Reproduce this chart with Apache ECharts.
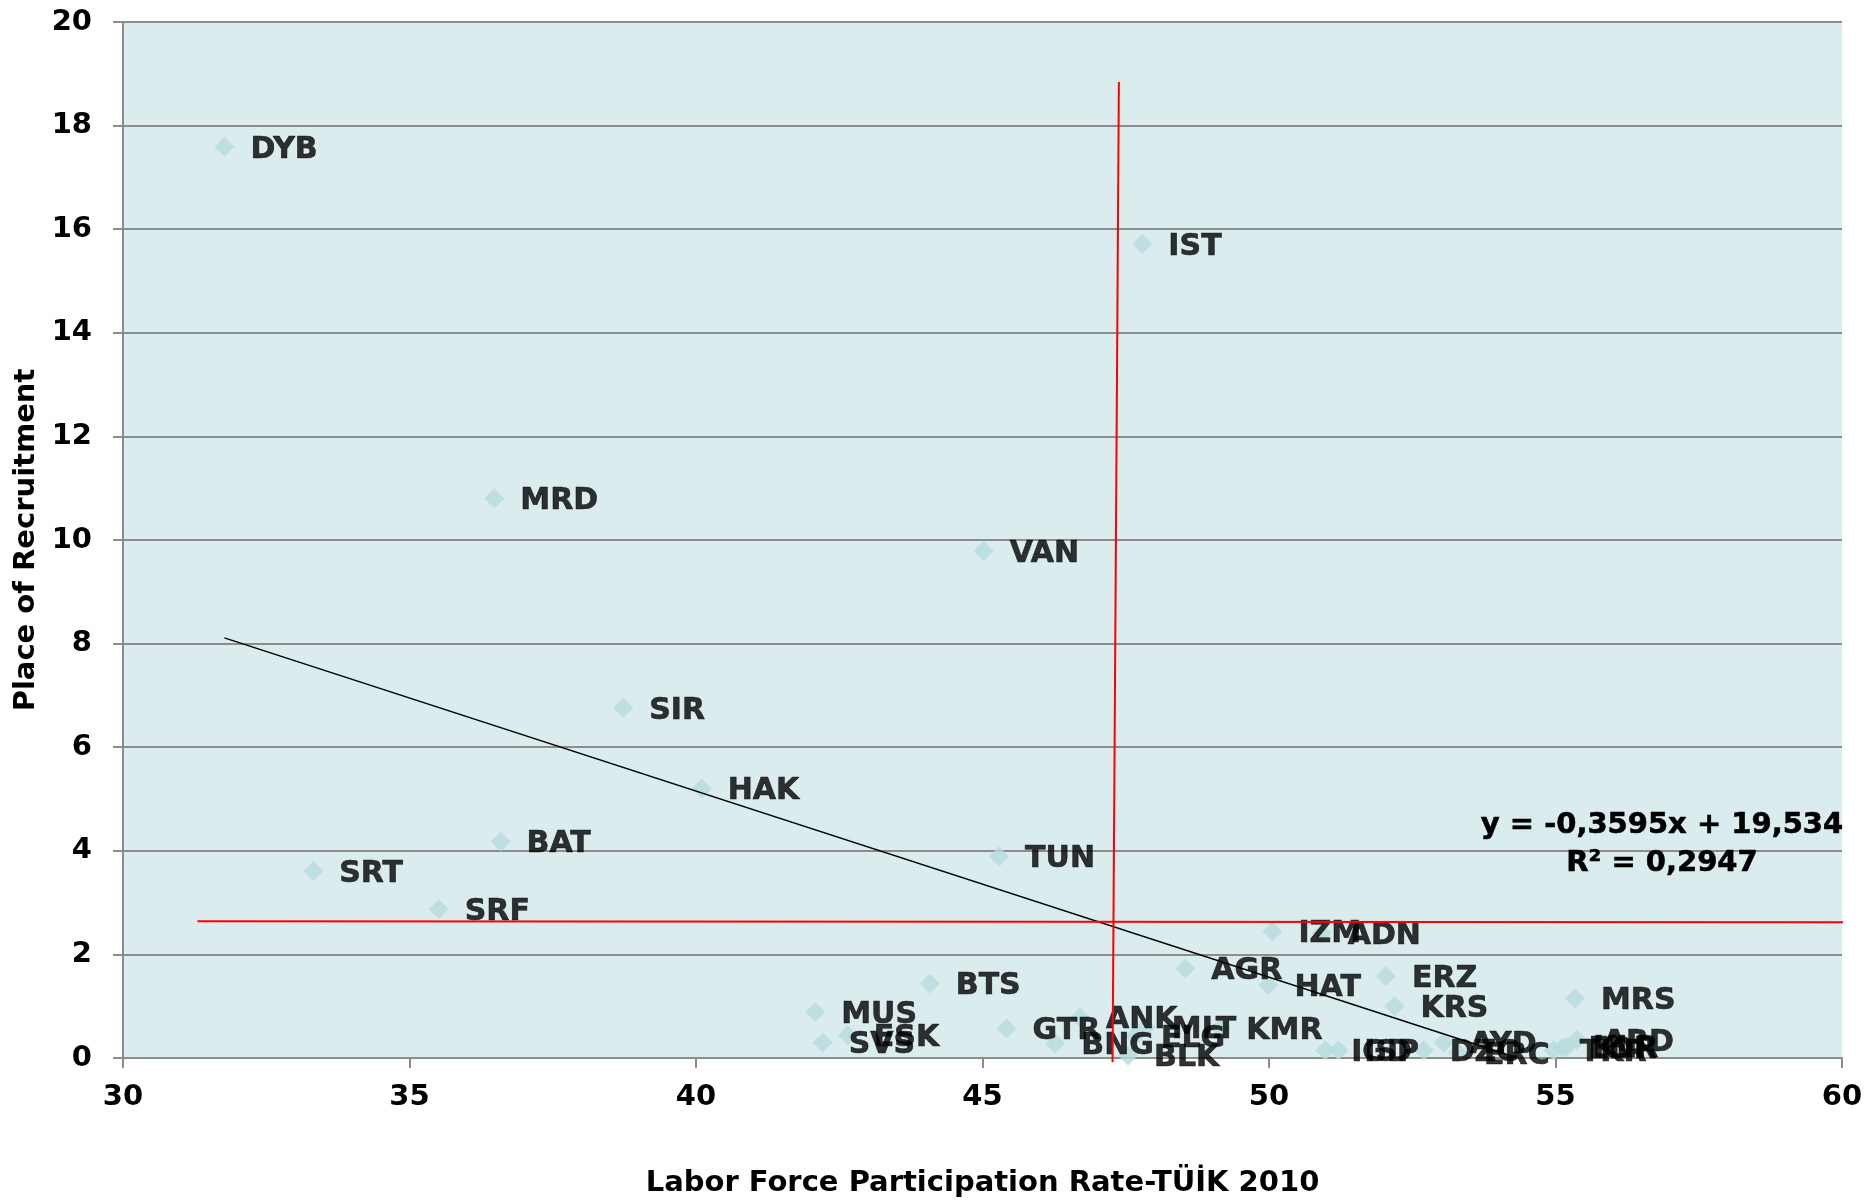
<!DOCTYPE html>
<html>
<head>
<meta charset="utf-8">
<script src="https://cdn.jsdelivr.net/npm/echarts@6/dist/echarts.min.js"></script>
<style>
  html, body { margin: 0; padding: 0; background: #fff; }
  #chart { width: 1868px; height: 1204px; }
</style>
</head>
<body>
<div id="chart"></div>
<script>
// province codes, labor force participation (x) and place of recruitment (y)
var provinces = ['DYB', 'IST', 'MRD', 'VAN', 'SIR', 'HAK', 'BAT', 'SRT', 'SRF', 'TUN',
    'IZM', 'ADN', 'AGR', 'HAT', 'BTS', 'ERZ', 'KRS', 'MRS', 'MUS', 'SVS',
    'ESK', 'GTR', 'ANK', 'BNG', 'BLK', 'ELG', 'MLT', 'KMR', 'IGD', 'ISP',
    'DZC', 'AYD', 'ERC', 'TKR', 'EDR', 'KLR', 'ARD'];
var participation = [31.77, 47.79, 36.48, 45.02, 38.73, 40.10, 36.59, 33.32, 35.51, 45.29,
    50.06, 50.92, 48.54, 49.99, 44.08, 52.04, 52.19, 55.34, 42.08, 42.21,
    42.65, 45.42, 46.70, 46.27, 47.54, 47.66, 47.85, 49.15, 50.98, 51.21,
    52.70, 53.05, 53.30, 54.97, 55.12, 55.20, 55.37];
var recruitment = [17.59, 15.72, 10.80, 9.79, 6.76, 5.20, 4.18, 3.61, 2.87, 3.89,
    2.44, 2.41, 1.73, 1.41, 1.44, 1.58, 1.00, 1.15, 0.89, 0.30,
    0.44, 0.57, 0.78, 0.28, 0.05, 0.42, 0.60, 0.58, 0.15, 0.15,
    0.15, 0.30, 0.10, 0.15, 0.20, 0.22, 0.35];

// trend line ends and the two red reference lines
var trendLine = [[31.77, 8.11], [54.34, 0]];
var redVertical = [[47.38, 18.84], [47.27, -0.08]];
var redHorizontal = [[31.3, 2.64], [60.2, 2.62]];
var equationText = ['y = -0,3595x + 19,534', 'R\u00b2 = 0,2947'];

var font = '"DejaVu Sans", Verdana, sans-serif';

var points = [];
for (var i = 0; i < provinces.length; i++) {
    points.push([participation[i], recruitment[i], provinces[i]]);
}

var chartDom = document.getElementById('chart');
var myChart = echarts.init(chartDom, null, { renderer: 'canvas' });
var option;

option = {
    animation: false,
    backgroundColor: '#ffffff',
    grid: {
        left: 123, right: 26, top: 22, bottom: 146,
        show: true, backgroundColor: '#daeced', borderWidth: 0
    },
    xAxis: {
        type: 'value', min: 30, max: 60, interval: 5,
        name: 'Labor Force Participation Rate-T\u00dc\u0130K 2010',
        nameLocation: 'middle', nameGap: 111,
        nameTextStyle: { fontFamily: font, fontWeight: 'bold', fontSize: 29, color: '#000' },
        axisLine: { show: true, onZero: false, lineStyle: { color: '#8c8c8c', width: 2 } },
        axisTick: { show: true, inside: false, length: 10, lineStyle: { color: '#8c8c8c', width: 2 } },
        axisLabel: { margin: 25, fontFamily: font, fontWeight: 'bold', fontSize: 29, color: '#000' },
        splitLine: { show: false }
    },
    yAxis: {
        type: 'value', min: 0, max: 20, interval: 2,
        name: 'Place of Recruitment',
        nameLocation: 'middle', nameGap: 82, nameRotate: 90,
        nameTextStyle: { fontFamily: font, fontWeight: 'bold', fontSize: 29, color: '#000' },
        axisLine: { show: true, lineStyle: { color: '#8c8c8c', width: 2 } },
        axisTick: { show: true, inside: false, length: 10, lineStyle: { color: '#8c8c8c', width: 2 } },
        axisLabel: { margin: 31, fontFamily: font, fontWeight: 'bold', fontSize: 29, color: '#000' },
        splitLine: { show: true, lineStyle: { color: '#8c8c8c', width: 2 } }
    },
    series: [
        {
            type: 'scatter',
            symbol: 'diamond',
            symbolSize: 20,
            data: points,
            itemStyle: { color: '#b7dcdf' },
            label: {
                show: true, position: 'right', distance: 16, offset: [0, 3],
                formatter: function (p) { return p.data[2]; },
                fontFamily: font, fontWeight: 'bold', fontSize: 30, color: '#000',
                textBorderColor: '#000', textBorderWidth: 0.6
            },
            z: 2
        },
        {
            type: 'line',
            data: trendLine,
            symbol: 'none',
            lineStyle: { color: '#000', width: 1.5 },
            z: 5
        },
        {
            type: 'line',
            data: redVertical,
            symbol: 'none', clip: false,
            lineStyle: { color: '#ff0000', width: 2 },
            z: 6
        },
        {
            type: 'line',
            data: redHorizontal,
            symbol: 'none', clip: false,
            lineStyle: { color: '#ff0000', width: 2 },
            z: 6
        }
    ],
    graphic: [
        {
            type: 'text', x: 1662, y: 806, z: 10,
            style: {
                text: equationText.join('\n'),
                textAlign: 'center', textVerticalAlign: 'top',
                font: 'bold 29px ' + font, lineHeight: 38, fill: '#000',
                stroke: '#000', lineWidth: 0.6
            }
        }
    ]
};

option && myChart.setOption(option);
</script>
</body>
</html>
